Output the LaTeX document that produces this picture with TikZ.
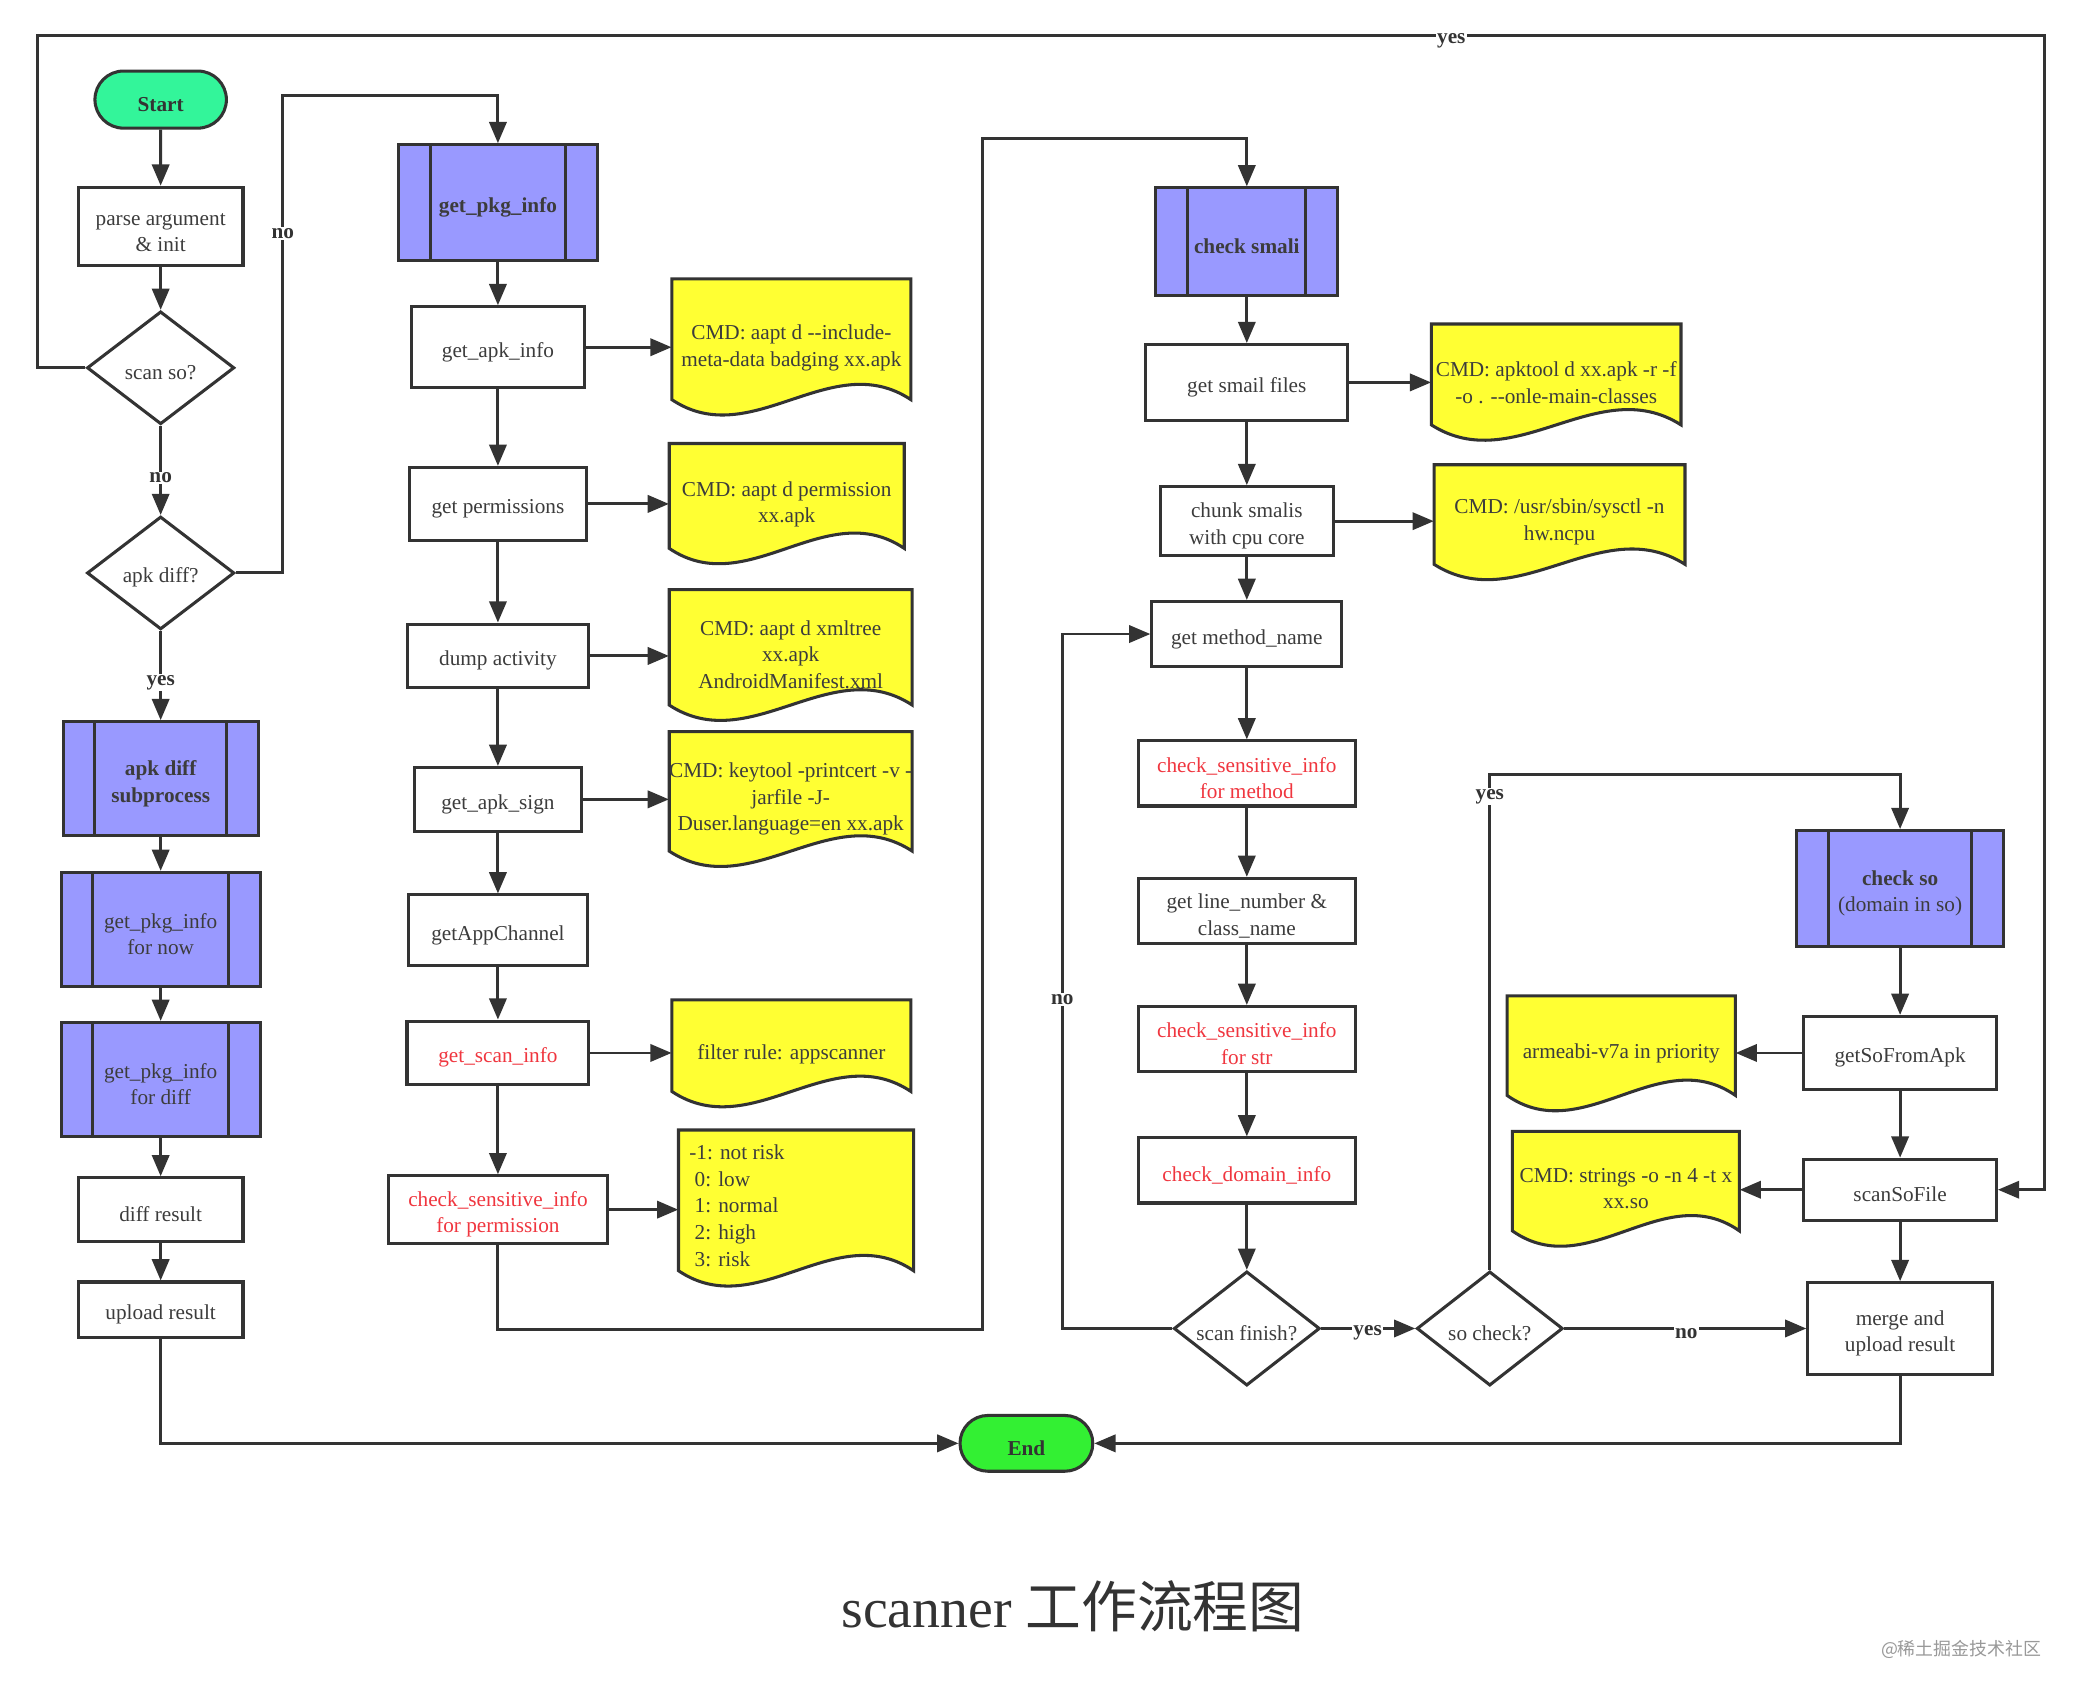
\documentclass[tikz,border=0pt]{standalone}
\usepackage{fontspec}
\setmainfont{Liberation Serif}
\newfontfamily\cjk{Noto Sans CJK SC}
\usetikzlibrary{arrows.meta,shapes.geometric,shapes.misc}
\definecolor{lc}{HTML}{333333}
\definecolor{tc}{HTML}{3C3C3C}
\definecolor{redc}{HTML}{F0363F}
\definecolor{subc}{HTML}{9999FF}
\definecolor{docc}{HTML}{FFFF33}
\definecolor{startc}{HTML}{33F59A}
\definecolor{endc}{HTML}{33F033}
\newcommand\tstrut{\rule{0pt}{18.5pt}}
\tikzset{
  fsz/.style={font=\fontsize{16}{20}\selectfont},
  base/.style={draw=lc, line width=2.3pt, inner sep=0pt, align=center, text=tc, fsz,
    execute at begin node={\tstrut}},
  sz/.style 2 args={minimum width=#1pt, minimum height=#2pt},
  proc/.style={base, rectangle, fill=white},
  sub/.style={base, rectangle, fill=subc,
    path picture={\draw[draw=lc, line width=2.3pt]
      ([xshift=24pt]path picture bounding box.north west) -- ([xshift=24pt]path picture bounding box.south west)
      ([xshift=-24pt]path picture bounding box.north east) -- ([xshift=-24pt]path picture bounding box.south east);}},
  bold/.style={font=\bfseries\fontsize{16}{20}\selectfont},
  term/.style={base, rounded rectangle, bold, text=lc},
  dec/.style={base, diamond, fill=white, shape aspect=1.3},
  redtxt/.style={text=redc},
  arr/.style={draw=lc, line width=2.2pt, -{Triangle[length=16pt,width=13pt]}},
  lab/.style={fill=white, inner sep=1pt, text=lc, bold},
  doctext/.style={inner sep=0pt, align=center, text=tc, fsz},
  docpath/.style={draw=lc, line width=2.3pt, fill=docc}
}
% name, x1, x2, top, corner bottom, text centre y, text
\newcommand\docnode[7]{%
  \path[docpath] (#2,#4) -- (#3,#4) -- (#3,#5)
    .. controls ({#3-(#3-#2)/3},{#5-40}) and ({#2+(#3-#2)/3},{#5+40}) .. (#2,#5) -- cycle;
  \node[doctext, minimum width={#3-#2}] (#1) at ({(#2+#3)/2},#6) {#7};
}
\begin{document}
\begin{tikzpicture}[x=1pt,y=-1pt]
\fill[white] (0,0) rectangle (1568,1280);
\useasboundingbox (0,0) rectangle (1568,1280);

% ---------- column 1 ----------
\node[term, fill=startc, sz={99}{43}] (start) at (121,75) {Start};
\node[proc, sz={124}{59}] (parse) at (121,170.5) {\tstrut parse argument\\\& init};
\node[dec, sz={111}{85}] (scanso) at (121,277) {scan so?};
\node[dec, sz={111}{85}] (apkdiff) at (121,431.5) {apk diff?};
\node[sub, bold, sz={147}{86}] (adsub) at (121,586.5) {\tstrut apk diff\\subprocess};
\node[sub, sz={150}{86}] (pkgnow) at (121,700) {\tstrut get\_pkg\_info\\for now};
\node[sub, sz={150}{86}] (pkgdiff) at (121,813) {\tstrut get\_pkg\_info\\for diff};
\node[proc, sz={124}{48}] (diffres) at (121,911) {diff result};
\node[proc, sz={124}{42}] (upload) at (121,986.5) {upload result};

% ---------- column 2 ----------
\node[sub, bold, sz={150}{87}] (pkginfo) at (375,152.5) {get\_pkg\_info};
\node[proc, sz={130}{61}] (apkinfo) at (375,261.5) {get\_apk\_info};
\node[proc, sz={133}{55}] (perms) at (375,379.5) {get permissions};
\node[proc, sz={136}{48}] (dump) at (375,494) {dump activity};
\node[proc, sz={126}{48}] (sign) at (375,602) {get\_apk\_sign};
\node[proc, sz={135}{53}] (channel) at (375,700.5) {getAppChannel};
\node[proc, redtxt, sz={137}{48}] (scaninfo) at (375,793) {get\_scan\_info};
\node[proc, redtxt, sz={165}{51}] (csperm) at (375,911) {\tstrut check\_sensitive\_info\\for permission};

\docnode{d1}{506}{686}{210}{301}{262}{CMD: aapt d -{}-include-\\meta-data badging xx.apk}
\docnode{d2}{504}{681}{334}{413}{380}{CMD: aapt d permission\\xx.apk}
\docnode{d3}{504}{687}{444}{531}{493}{CMD: aapt d xmltree\\xx.apk\\AndroidManifest.xml}
\docnode{d4}{504}{687}{551}{641}{602}{CMD: keytool -printcert -v -\\jarfile -J-\\Duser.language=en xx.apk}
\docnode{d5}{506}{686}{753}{822}{794}{filter rule: appscanner}
\docnode{d6}{511}{688}{851}{957}{907}{}
\node[doctext, anchor=west, align=left] (d6t) at (519,908)
  {-1: not risk\\\hspace*{4pt}0: low\\\hspace*{4pt}1: normal\\\hspace*{4pt}2: high\\\hspace*{4pt}3: risk};

% ---------- column 3 ----------
\node[sub, bold, sz={137}{81}] (smali) at (939,182) {check smali};
\node[proc, sz={152}{57}] (smailfiles) at (939,288) {get smail files};
\node[proc, sz={130}{52}] (chunk) at (939,392.5) {\tstrut chunk smalis\\with cpu core};
\node[proc, sz={143}{49}] (methodname) at (939,477.5) {get method\_name};
\node[proc, redtxt, sz={163}{49}] (csmethod) at (939,582.5) {\tstrut check\_sensitive\_info\\for method};
\node[proc, sz={163}{49}] (linenum) at (939,686) {\tstrut get line\_number \&\\class\_name};
\node[proc, redtxt, sz={163}{49}] (csstr) at (939,782.5) {\tstrut check\_sensitive\_info\\for str};
\node[proc, redtxt, sz={163}{49}] (domain) at (939,881.5) {check\_domain\_info};
\node[dec, sz={110}{86}] (scanfinish) at (939,1000.5) {scan finish?};
\node[dec, sz={110}{86}] (socheck) at (1122,1000.5) {so check?};

\docnode{d7}{1078}{1266}{244}{320}{288}{CMD: apktool d xx.apk -r -f\\-o . -{}-onle-main-classes}
\docnode{d8}{1080}{1269}{350}{425}{393}{CMD: /usr/sbin/sysctl -n\\hw.ncpu}

% ---------- column 4 ----------
\node[sub, sz={156}{87}] (checkso) at (1431,669) {\tstrut\textbf{check so}\\(domain in so)};
\node[proc, sz={145}{55}] (getso) at (1431,793) {getSoFromApk};
\node[proc, sz={145}{46}] (scansofile) at (1431,896) {scanSoFile};
\node[proc, sz={139}{69}] (merge) at (1431,1000.5) {\tstrut merge and\\upload result};

\docnode{d9}{1135}{1307}{750}{825}{793}{armeabi-v7a in priority}
\docnode{d10}{1139}{1310}{852}{927}{895}{CMD: strings -o -n 4 -t x\\xx.so}

\node[term, fill=endc, sz={100}{42}] (end) at (773,1087) {End};

% ---------- helper coordinates ----------
\coordinate (tl) at (28.5,27);
\coordinate (tr) at (1540,27);
\coordinate (c1) at (213,72);
\coordinate (c2a) at (740,1001.5);
\coordinate (c2b) at (740,104);
\coordinate (c3) at (800,700);
\coordinate (c4) at (1200,583);

% ---------- connectors ----------
\draw[arr] (start) -- (parse);
\draw[arr] (parse) -- (scanso);
\draw[arr] (scanso) -- (apkdiff);
\draw[arr] (apkdiff) -- (adsub);
\draw[arr] (adsub) -- (pkgnow);
\draw[arr] (pkgnow) -- (pkgdiff);
\draw[arr] (pkgdiff) -- (diffres);
\draw[arr] (diffres) -- (upload);
\draw[arr] (upload.south) |- (end.west);
\draw[arr] (scanso.west) -| (tl) -- (tr) |- (scansofile.east);
\draw[arr] (apkdiff.east) -| (c1) -| (pkginfo.north);

\draw[arr] (pkginfo) -- (apkinfo);
\draw[arr] (apkinfo) -- (perms);
\draw[arr] (perms) -- (dump);
\draw[arr] (dump) -- (sign);
\draw[arr] (sign) -- (channel);
\draw[arr] (channel) -- (scaninfo);
\draw[arr] (scaninfo) -- (csperm);
\draw[arr] (apkinfo.east) -- (apkinfo.east -| d1.west);
\draw[arr] (perms.east) -- (perms.east -| d2.west);
\draw[arr] (dump.east) -- (dump.east -| d3.west);
\draw[arr] (sign.east) -- (sign.east -| d4.west);
\draw[arr] (scaninfo.east) -- (scaninfo.east -| d5.west);
\draw[arr] (csperm.east) -- (csperm.east -| d6.west);
\draw[arr] (csperm.south) |- (c2a) -- (c2b) -| (smali.north);

\draw[arr] (smali) -- (smailfiles);
\draw[arr] (smailfiles) -- (chunk);
\draw[arr] (chunk) -- (methodname);
\draw[arr] (methodname) -- (csmethod);
\draw[arr] (csmethod) -- (linenum);
\draw[arr] (linenum) -- (csstr);
\draw[arr] (csstr) -- (domain);
\draw[arr] (domain) -- (scanfinish);
\draw[arr] (smailfiles.east) -- (smailfiles.east -| d7.west);
\draw[arr] (chunk.east) -- (chunk.east -| d8.west);
\draw[arr] (scanfinish.west) -| (c3) |- (methodname.west);
\draw[arr] (scanfinish.east) -- (socheck.west);
\draw[arr] (socheck.north) |- (c4) -| (checkso.north);
\draw[arr] (socheck.east) -- (merge.west);

\draw[arr] (checkso) -- (getso);
\draw[arr] (getso) -- (scansofile);
\draw[arr] (scansofile) -- (merge);
\draw[arr] (getso.west) -- (getso.west -| d9.east);
\draw[arr] (scansofile.west) -- (scansofile.west -| d10.east);
\draw[arr] (merge.south) |- (end.east);

% ---------- labels ----------
\node[lab] (l1) at (121,360) {no};
\node[lab] (l2) at (121,514) {yes};
\node[lab] (l3) at (213,176) {no};
\node[lab] (l4) at (1093,31) {yes};
\node[lab] (l5) at (800,753) {no};
\node[lab] (l6) at (1030,1004) {yes};
\node[lab] (l7) at (1122,600) {yes};
\node[lab] (l8) at (1270,1004) {no};

% ---------- caption ----------
\node[text=lc, font=\fontsize{42}{50}\selectfont] (cap) at (808,1210) {scanner {\cjk 工作流程图}};
\node[text=black!40, font=\cjk\fontsize{13.5}{16}\selectfont] (wm) at (1477,1242) {@稀土掘金技术社区};
\end{tikzpicture}
\end{document}
